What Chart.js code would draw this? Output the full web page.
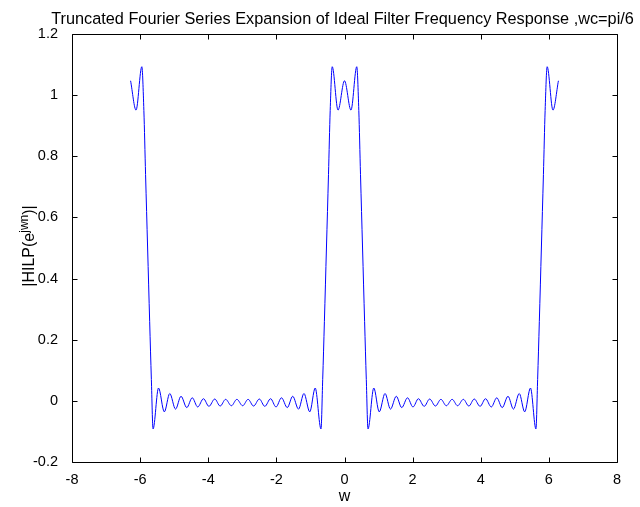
<!DOCTYPE html>
<html>
<head>
<meta charset="utf-8">
<script src="https://cdn.jsdelivr.net/npm/chart.js@4.4.0/dist/chart.umd.min.js"></script>
<style>
html, body { margin: 0; padding: 0; background: #fff; }
</style>
</head>
<body>
<canvas id="myChart" width="640" height="507"></canvas>
<script>
// Frequency samples (rad): edge, stopband ripples, passband, stopband, edge
var wValues = [
  -6.28, -6.12, -5.95, -5.89, -5.84, -5.78, -5.72, -5.67, -5.62,
  -5.46, -5.29, -5.13, -4.96, -4.80, -4.63, -4.47, -4.31, -4.14, -3.98,
  -3.81, -3.65, -3.49, -3.32, -3.16, -2.99, -2.83, -2.67, -2.50, -2.34,
  -2.17, -2.01, -1.85, -1.68, -1.52, -1.35, -1.19, -1.02, -0.86,
  -0.69, -0.64, -0.59, -0.53, -0.47, -0.42, -0.36, -0.19, 0, 0.19, 0.36,
  0.42, 0.47, 0.53, 0.59, 0.64, 0.69,
  0.86, 1.02, 1.19, 1.35, 1.52, 1.68, 1.85, 2.01, 2.17, 2.34,
  2.50, 2.67, 2.83, 2.99, 3.16, 3.32, 3.49, 3.65, 3.81, 3.98,
  4.14, 4.31, 4.47, 4.63, 4.80, 4.96, 5.13, 5.29, 5.46,
  5.62, 5.67, 5.72, 5.78, 5.84, 5.89, 5.95, 6.12, 6.28
];
// |HILP(e^jwn)| at those samples
var hValues = [
  1.047, 0.951, 1.093, 0.95, 0.74, 0.50, 0.26, 0.07, -0.092,
  0.042, -0.036, 0.024, -0.027, 0.015, -0.022, 0.010, -0.020, 0.007, -0.018,
  0.006, -0.017, 0.005, -0.016, 0.005, -0.016, 0.005, -0.017, 0.006, -0.018,
  0.007, -0.020, 0.010, -0.022, 0.015, -0.027, 0.024, -0.036, 0.042,
  -0.092, 0.07, 0.26, 0.50, 0.74, 0.95, 1.093, 0.951, 1.047, 0.951, 1.093,
  0.95, 0.74, 0.50, 0.26, 0.07, -0.092,
  0.042, -0.036, 0.024, -0.027, 0.015, -0.022, 0.010, -0.020, 0.007, -0.018,
  0.006, -0.017, 0.005, -0.016, 0.005, -0.016, 0.005, -0.017, 0.006, -0.018,
  0.007, -0.020, 0.010, -0.022, 0.015, -0.027, 0.024, -0.036, 0.042,
  -0.092, 0.07, 0.26, 0.50, 0.74, 0.95, 1.093, 0.951, 1.047
];

var xTicks = [-8, -6, -4, -2, 0, 2, 4, 6, 8];
var xTickLabels = ['-8', '-6', '-4', '-2', '0', '2', '4', '6', '8'];
var yTicks = [-0.2, 0, 0.2, 0.4, 0.6, 0.8, 1, 1.2];
var yTickLabels = ['-0.2', '0', '0.2', '0.4', '0.6', '0.8', '1', '1.2'];

var titleText = 'Truncated Fourier Series Expansion of Ideal Filter Frequency Response ,wc=pi/6';
var fontFamily = "'Liberation Sans', Arial, Helvetica, sans-serif";

var points = wValues.map(function (w, i) { return { x: w, y: hValues[i] }; });

// box round the plot with inward ticks on all four sides, the title and the y label with superscript
var matlabAxes = {
  id: 'matlabAxes',
  afterDraw: function (chart) {
    var ctx = chart.ctx, a = chart.chartArea;
    var xs = chart.scales.x, ys = chart.scales.y;
    var L = Math.round(a.left) + 0.5, R = Math.round(a.right) + 0.5;
    var T = Math.round(a.top) + 0.5, B = Math.round(a.bottom) + 0.5;
    ctx.save();
    ctx.strokeStyle = '#000';
    ctx.lineWidth = 1;
    ctx.beginPath();
    ctx.moveTo(L, T); ctx.lineTo(R, T); ctx.lineTo(R, B); ctx.lineTo(L, B); ctx.closePath();
    xTicks.forEach(function (v) {
      var px = Math.round(xs.getPixelForValue(v)) + 0.5;
      ctx.moveTo(px, B); ctx.lineTo(px, B - 5);
      ctx.moveTo(px, T); ctx.lineTo(px, T + 5);
    });
    yTicks.forEach(function (v) {
      var py = Math.round(ys.getPixelForValue(v)) + 0.5;
      ctx.moveTo(L, py); ctx.lineTo(L + 5, py);
      ctx.moveTo(R, py); ctx.lineTo(R - 5, py);
    });
    ctx.stroke();

    // title, centred over the axes (drawn here so it is not squeezed to the plot width)
    ctx.fillStyle = '#000';
    ctx.font = '16.3px ' + fontFamily;
    ctx.textAlign = 'center';
    ctx.textBaseline = 'alphabetic';
    ctx.fillText(titleText, (a.left + a.right) / 2 - 2, 24);

    // y label: |HILP(e^{jwn})|
    var mainFont = '16px ' + fontFamily, supFont = '12px ' + fontFamily;
    var s1 = '|HILP(e', s2 = 'jwn', s3 = ')|';
    ctx.font = mainFont; var w1 = ctx.measureText(s1).width, w3 = ctx.measureText(s3).width;
    ctx.font = supFont; var w2 = ctx.measureText(s2).width;
    var total = w1 + w2 + w3;
    ctx.translate(34, (a.top + a.bottom) / 2 - 2);
    ctx.rotate(-Math.PI / 2);
    ctx.textAlign = 'left';
    var x0 = -total / 2;
    ctx.font = mainFont; ctx.fillText(s1, x0, 0);
    ctx.font = supFont; ctx.fillText(s2, x0 + w1, -6);
    ctx.font = mainFont; ctx.fillText(s3, x0 + w1 + w2, 0);
    ctx.restore();
  }
};

var element = document.getElementById('myChart').getContext('2d');

var chart = new Chart(element, {
  type: 'scatter',
  data: {
    datasets: [{
      data: points,
      showLine: true,
      borderColor: '#0000ff',
      borderWidth: 1,
      pointRadius: 0,
      cubicInterpolationMode: 'monotone',
      fill: false
    }]
  },
  options: {
    responsive: false,
    animation: false,
    events: [],
    layout: { padding: { left: 0, right: 23, top: 34, bottom: 0 } },
    plugins: {
      legend: { display: false },
      tooltip: { enabled: false },
      title: { display: false }
    },
    scales: {
      x: {
        type: 'linear',
        min: -8,
        max: 8,
        grid: { display: false },
        border: { display: false },
        afterBuildTicks: function (scale) {
          scale.ticks = xTicks.map(function (v) { return { value: v }; });
        },
        afterFit: function (scale) { scale.height = 45; },
        ticks: {
          color: '#000',
          padding: 1,
          maxRotation: 0,
          font: { family: fontFamily, size: 14.5 },
          callback: function (value, index) { return xTickLabels[index]; }
        },
        title: {
          display: true,
          text: 'w',
          color: '#000',
          font: { family: fontFamily, size: 16 },
          padding: { top: 0, bottom: 1 }
        }
      },
      y: {
        type: 'linear',
        min: -0.2,
        max: 1.2,
        grid: { display: false },
        border: { display: false },
        afterBuildTicks: function (scale) {
          scale.ticks = yTicks.map(function (v) { return { value: v }; });
        },
        afterFit: function (scale) { scale.width = 72; },
        ticks: {
          color: '#000',
          padding: 6,
          font: { family: fontFamily, size: 14.5 },
          callback: function (value, index) { return yTickLabels[index]; }
        }
      }
    }
  },
  plugins: [matlabAxes]
});
</script>
</body>
</html>
